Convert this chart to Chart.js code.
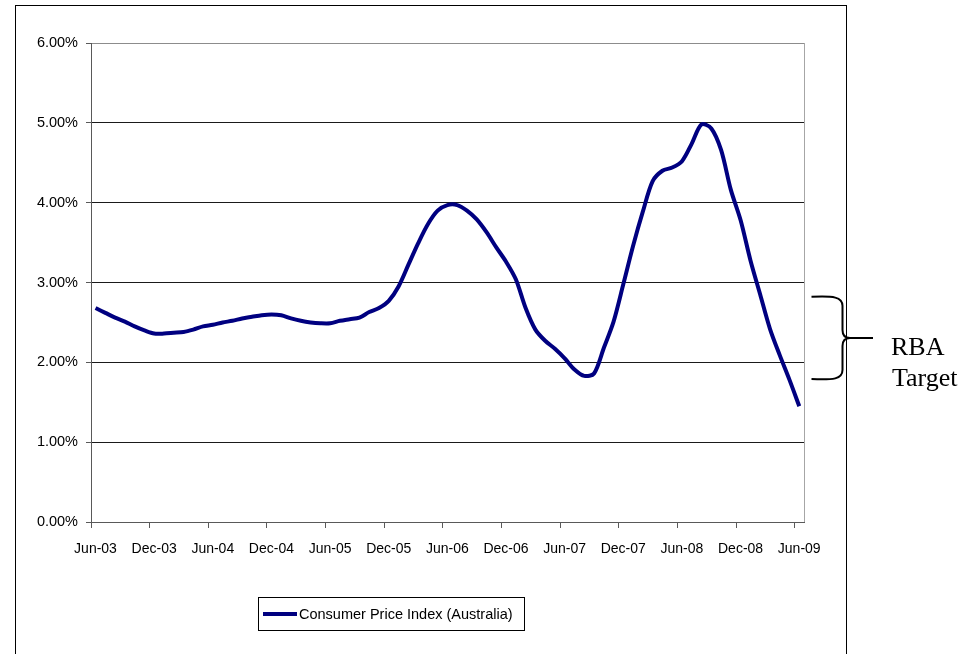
<!DOCTYPE html>
<html>
<head>
<meta charset="utf-8">
<title>Consumer Price Index (Australia)</title>
<script src="https://cdn.jsdelivr.net/npm/chart.js@4"></script>
<style>
  html, body { margin: 0; padding: 0; background: #fff; }
  #wrap { width: 965px; height: 654px; }
</style>
</head>
<body>
<div id="wrap"><canvas id="cpiChart" width="965" height="654"></canvas></div>
<script>
// year-ended CPI growth in %, one reading a month, Jun-03 .. Jun-09
const months = [
  'Jun-03','Jul-03','Aug-03','Sep-03','Oct-03','Nov-03','Dec-03',
  'Jan-04','Feb-04','Mar-04','Apr-04','May-04','Jun-04','Jul-04','Aug-04','Sep-04','Oct-04','Nov-04','Dec-04',
  'Jan-05','Feb-05','Mar-05','Apr-05','May-05','Jun-05','Jul-05','Aug-05','Sep-05','Oct-05','Nov-05','Dec-05',
  'Jan-06','Feb-06','Mar-06','Apr-06','May-06','Jun-06','Jul-06','Aug-06','Sep-06','Oct-06','Nov-06','Dec-06',
  'Jan-07','Feb-07','Mar-07','Apr-07','May-07','Jun-07','Jul-07','Aug-07','Sep-07','Oct-07','Nov-07','Dec-07',
  'Jan-08','Feb-08','Mar-08','Apr-08','May-08','Jun-08','Jul-08','Aug-08','Sep-08','Oct-08','Nov-08','Dec-08',
  'Jan-09','Feb-09','Mar-09','Apr-09','May-09','Jun-09'
];
const cpi = [
  2.68, 2.62, 2.56, 2.51, 2.45, 2.40, 2.36,
  2.36, 2.37, 2.38, 2.41, 2.45, 2.47, 2.50, 2.52, 2.55, 2.57, 2.59, 2.60,
  2.59, 2.55, 2.52, 2.50, 2.49, 2.49, 2.52, 2.54, 2.56, 2.63, 2.68, 2.77,
  2.95, 3.22, 3.49, 3.73, 3.90, 3.97, 3.97, 3.90, 3.79, 3.63, 3.44, 3.26,
  3.04, 2.68, 2.41, 2.27, 2.17, 2.05, 1.91, 1.83, 1.86, 2.18, 2.51, 2.98,
  3.46, 3.89, 4.27, 4.40, 4.44, 4.52, 4.74, 4.98, 4.93, 4.66, 4.16, 3.78,
  3.28, 2.85, 2.42, 2.09, 1.78, 1.45
];
const tickLabels = ['Jun-03','Dec-03','Jun-04','Dec-04','Jun-05','Dec-05','Jun-06',
                    'Dec-06','Jun-07','Dec-07','Jun-08','Dec-08','Jun-09'];
const seriesName = 'Consumer Price Index (Australia)';
const bracketRange = [1.79, 2.82];   // span of the target bracket, % on the value axis

const navy = '#000080';
const axisGrey = '#595959';
const sans = "'Liberation Sans', Arial, sans-serif";

// readings are taken mid-month, months counted from Jun-03
const points = cpi.map((v, i) => ({ x: i + 14 / 30, y: v }));

const extras = {
  id: 'extras',
  beforeDraw(chart) {
    const ctx = chart.ctx;
    ctx.save();
    ctx.fillStyle = '#fff';
    ctx.fillRect(0, 0, chart.width, chart.height);
    ctx.restore();
  },
  afterDraw(chart) {
    const { ctx, chartArea: a, scales: { y } } = chart;
    ctx.save();

    // outer frame
    ctx.strokeStyle = '#000';
    ctx.lineWidth = 1;
    ctx.strokeRect(15.5, 5.5, 831, 700);

    // plot area edge on the right
    ctx.strokeStyle = '#a6a6a6';
    ctx.beginPath();
    ctx.moveTo(Math.round(a.right) + 0.5, a.top);
    ctx.lineTo(Math.round(a.right) + 0.5, a.bottom);
    ctx.stroke();

    // legend
    const lx = 258.5, ly = 597.5, lw = 266, lh = 33;
    ctx.strokeStyle = '#000';
    ctx.strokeRect(lx, ly, lw, lh);
    ctx.strokeStyle = navy;
    ctx.lineWidth = 4;
    ctx.beginPath();
    ctx.moveTo(263, ly + lh / 2);
    ctx.lineTo(297, ly + lh / 2);
    ctx.stroke();
    ctx.fillStyle = '#000';
    ctx.font = '14.5px ' + sans;
    ctx.textBaseline = 'middle';
    ctx.fillText(seriesName, 299, ly + lh / 2 + 1);

    // curly bracket marking the target band
    const yT = y.getPixelForValue(bracketRange[1]);
    const yB = y.getPixelForValue(bracketRange[0]);
    const yM = (yT + yB) / 2;
    const x0 = 811.5, x1 = 842.5, xt = 850, xe = 873;
    ctx.strokeStyle = '#000';
    ctx.lineWidth = 2;
    ctx.beginPath();
    ctx.moveTo(x0, yT);
    ctx.bezierCurveTo(x0 + 22, yT - 1, x1, yT, x1, yT + 9);
    ctx.lineTo(x1, yM - 8);
    ctx.quadraticCurveTo(x1, yM, xt, yM);
    ctx.quadraticCurveTo(x1, yM, x1, yM + 8);
    ctx.lineTo(x1, yB - 9);
    ctx.bezierCurveTo(x1, yB, x0 + 22, yB + 1, x0, yB);
    ctx.stroke();
    ctx.beginPath();
    ctx.moveTo(xt, yM);
    ctx.lineTo(xe, yM);
    ctx.stroke();

    ctx.fillStyle = '#000';
    ctx.font = "26px 'Liberation Serif', 'Times New Roman', serif";
    ctx.textBaseline = 'alphabetic';
    ctx.fillText('RBA', 891, 355);
    ctx.fillText('Target', 892, 386);

    ctx.restore();
  }
};

new Chart(document.getElementById('cpiChart'), {
  type: 'line',
  data: {
    datasets: [{
      label: seriesName,
      data: points,
      borderColor: navy,
      borderWidth: 4,
      pointRadius: 0,
      tension: 0.3,
      fill: false
    }]
  },
  options: {
    responsive: false,
    animation: false,
    layout: { padding: { left: 0, top: 43, right: 161, bottom: 0 } },
    plugins: {
      legend: { display: false },
      tooltip: { enabled: false }
    },
    scales: {
      x: {
        type: 'linear',
        min: 0,
        max: 72.95,
        afterBuildTicks: (axis) => {
          axis.ticks = tickLabels.map((_, i) => ({ value: i * 6 }));
        },
        afterFit: (scale) => { scale.height = 132; },
        ticks: {
          callback: (v) => tickLabels[Math.round(v / 6)],
          color: '#000',
          font: { family: sans, size: 14 },
          labelOffset: 4.5,
          padding: 13,
          maxRotation: 0,
          autoSkip: false
        },
        grid: {
          drawOnChartArea: false,
          tickLength: 6,
          color: axisGrey
        },
        border: { color: axisGrey, width: 1 }
      },
      y: {
        min: 0,
        max: 6,
        afterFit: (scale) => { scale.width = 91; },
        ticks: {
          stepSize: 1,
          callback: (v) => v.toFixed(2) + '%',
          color: '#000',
          font: { family: sans, size: 14.5 },
          padding: 8
        },
        grid: {
          color: (c) => c.tick && c.tick.value === 6 ? '#8c8c8c' : '#1a1a1a',
          tickColor: axisGrey,
          tickLength: 5
        },
        border: { color: axisGrey, width: 1 }
      }
    }
  },
  plugins: [extras]
});
</script>
</body>
</html>
